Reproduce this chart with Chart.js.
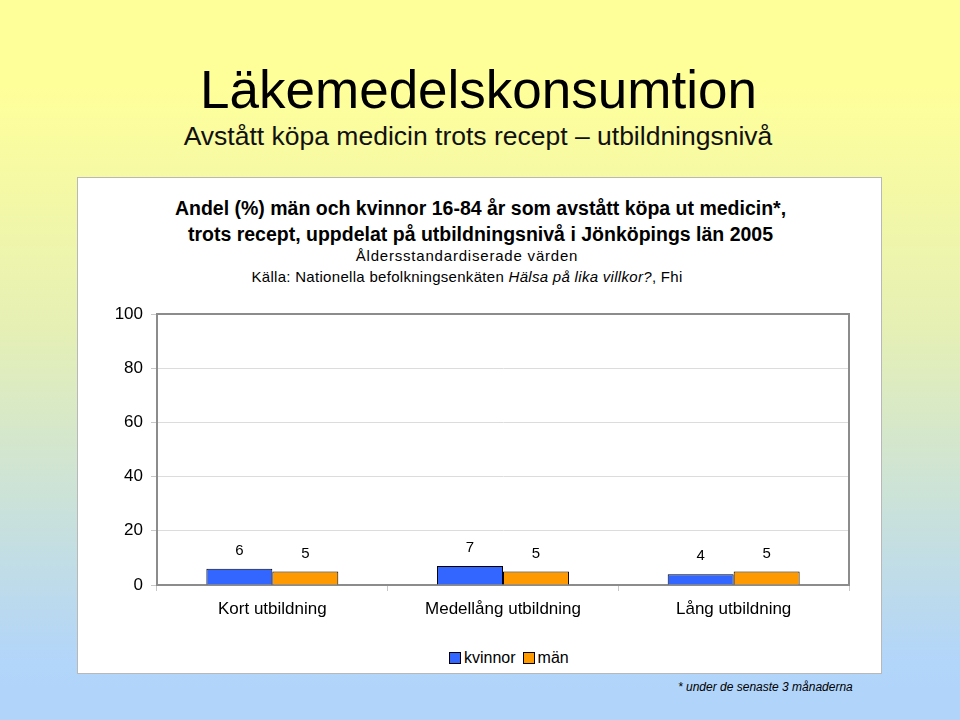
<!DOCTYPE html>
<html lang="sv">
<head>
<meta charset="utf-8">
<script src="https://cdn.jsdelivr.net/npm/chart.js@4/dist/chart.umd.min.js"></script>
<style>
  html, body { margin: 0; padding: 0; }
  body {
    width: 960px; height: 720px; position: relative; overflow: hidden;
    font-family: "Liberation Sans", Arial, sans-serif; color: #000;
    background: linear-gradient(to bottom, #ffff99 0%, #ffff9a 12%, #e6f0b4 45%, #b2d5fa 92%, #b0d4fa 100%);
  }
  .abs { position: absolute; white-space: nowrap; }
  #box { left: 77px; top: 177px; width: 803px; height: 495px; background: #fff;
         border: 1px solid #b8b8b8; }
  #main { left: 0; width: 957px; text-align: center; top: 60px; font-size: 53px; line-height: 60px; }
  #sub { left: 0; width: 956px; text-align: center; top: 121px; font-size: 26.5px; line-height: 30px; color: #111; }
  .t1 { left: 0; width: 961px; text-align: center; font-weight: bold; font-size: 19.5px; line-height: 22px; letter-spacing: 0; }
  .t2 { left: 0; width: 934px; text-align: center; font-size: 15px; line-height: 18px; }
  #legend { left: 442px; top: 647px; font-size: 16px; line-height: 22px; display: flex; align-items: center; }
  #legend span.sw { display: inline-block; width: 10px; height: 10px; border: 1px solid #000; margin: 0 3px 0 7px; }
  #foot { left: 678px; top: 679px; font-size: 12px; font-style: italic; line-height: 16px; }
  canvas { position: absolute; left: 0; top: 0; }
</style>
</head>
<body>
<div id="box" class="abs"></div>
<div id="main" class="abs">Läkemedelskonsumtion</div>
<div id="sub" class="abs">Avstått köpa medicin trots recept – utbildningsnivå</div>
<div class="abs t1" style="top:197px">Andel (%) män och kvinnor 16-84 år som avstått köpa ut medicin*,</div>
<div class="abs t1" style="top:223px">trots recept, uppdelat på utbildningsnivå i Jönköpings län 2005</div>
<div class="abs t2" style="top:247px; letter-spacing:0.8px">Åldersstandardiserade värden</div>
<div class="abs t2" style="top:268px; letter-spacing:0.3px">Källa: Nationella befolkningsenkäten <i>Hälsa på lika villkor?</i>, Fhi</div>
<div id="legend" class="abs"></div>
<div id="foot" class="abs">* under de senaste 3 månaderna</div>
<canvas id="chart" width="960" height="720"></canvas>

<script>
/* ---------- Data ---------- */
const categories = ['Kort utbildning', 'Medellång utbildning', 'Lång utbildning'];
const kvinnor = [6, 7, 4];
const man = [5, 5, 5];
const seriesNames = ['kvinnor', 'män'];
const seriesColors = ['#3366ff', '#ff9900'];
const yTicks = [0, 20, 40, 60, 80, 100];

/* ---------- Plot frame + value labels ---------- */
const framePlugin = {
  id: 'frame',
  afterDraw(chart) {
    const { ctx, chartArea: a } = chart;
    ctx.save();
    ctx.strokeStyle = '#8c8c8c';
    ctx.lineWidth = 2;
    ctx.beginPath();
    ctx.moveTo(a.left, a.top); ctx.lineTo(a.right, a.top); ctx.lineTo(a.right, a.bottom);
    ctx.stroke();
    ctx.restore();
  }
};

const valueLabels = {
  id: 'valueLabels',
  afterDatasetsDraw(chart) {
    const { ctx } = chart;
    ctx.save();
    ctx.font = '15px "Liberation Sans", Arial, sans-serif';
    ctx.fillStyle = '#000';
    ctx.textAlign = 'center';
    ctx.textBaseline = 'middle';
    chart.data.datasets.forEach((ds, i) => {
      chart.getDatasetMeta(i).data.forEach((bar, j) => {
        ctx.fillText(String(ds.data[j]), bar.x, bar.y - 18);
      });
    });
    ctx.restore();
  }
};

new Chart(document.getElementById('chart'), {
  type: 'bar',
  data: {
    labels: categories,
    datasets: [kvinnor, man].map((d, i) => ({
      label: seriesNames[i],
      data: d,
      backgroundColor: seriesColors[i],
      borderColor: '#000',
      borderWidth: 1,
      borderSkipped: 'bottom',
      categoryPercentage: 0.572,
      barPercentage: 1
    }))
  },
  options: {
    responsive: false,
    animation: false,
    layout: { padding: { left: 0, top: 314, right: 111, bottom: 0 } },
    plugins: { legend: { display: false }, tooltip: { enabled: false }, title: { display: false } },
    scales: {
      x: {
        afterFit(s) { s.height = 135; },
        grid: { offset: true, drawOnChartArea: false, tickLength: 6, color: '#c8c8c8' },
        border: { color: '#8c8c8c', width: 2 },
        ticks: { color: '#000', padding: 8, font: { size: 17, family: '"Liberation Sans", Arial, sans-serif' } }
      },
      y: {
        min: 0, max: 100,
        afterFit(s) { s.width = 157; },
        afterBuildTicks(s) { s.ticks = yTicks.map(v => ({ value: v })); },
        grid: { color: '#dcdcdc', tickLength: 6, tickColor: '#c8c8c8' },
        border: { color: '#8c8c8c', width: 2 },
        ticks: { color: '#000', padding: 8, font: { size: 17, family: '"Liberation Sans", Arial, sans-serif' } }
      }
    }
  },
  plugins: [framePlugin, valueLabels]
});

/* ---------- Legend ---------- */
document.getElementById('legend').innerHTML = seriesNames.map((n, i) =>
  `<span class="sw" style="background:${seriesColors[i]}"></span><span>${n}</span>`).join('');
</script>
</body>
</html>
